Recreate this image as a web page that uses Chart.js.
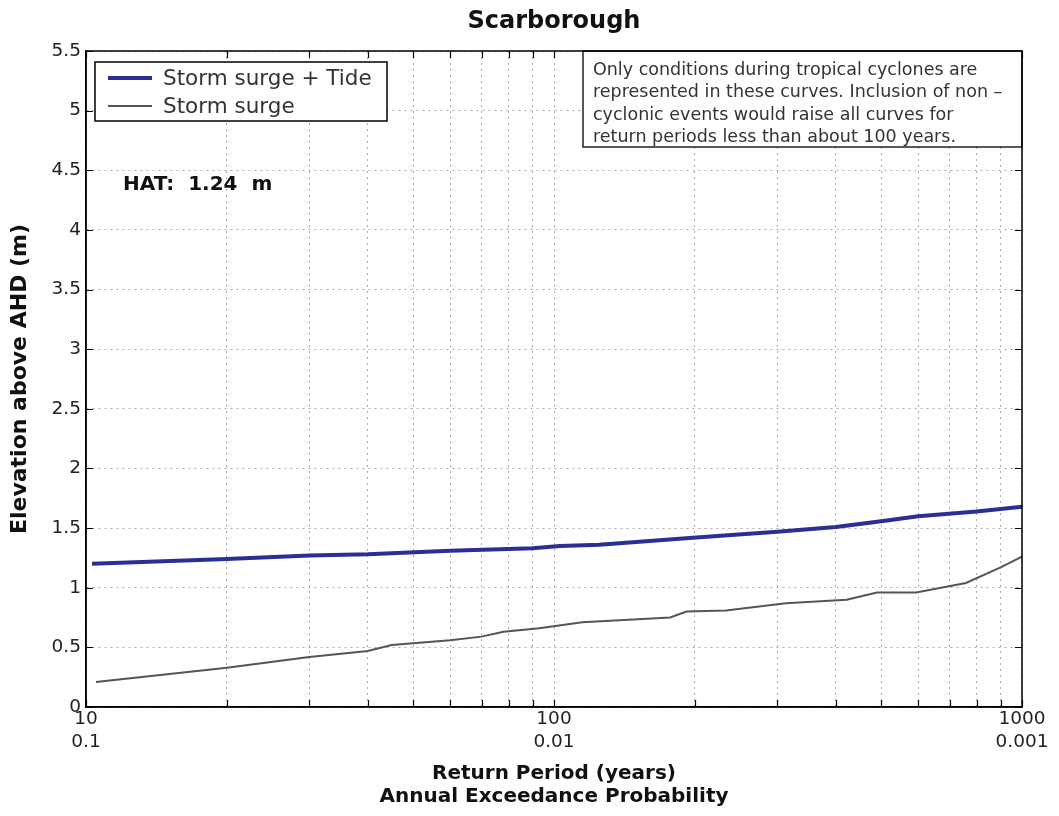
<!DOCTYPE html>
<html>
<head>
<meta charset="utf-8">
<script src="https://cdn.jsdelivr.net/npm/chart.js@4.4.0/dist/chart.umd.min.js"></script>
<style>
    html, body { margin: 0; padding: 0; background: #fff; }
</style>
</head>
<body>
<canvas id="surgeChart" width="1059" height="816"></canvas>
<script>
// return period (years) and elevation (m)
const tideYears = [10.3, 20, 30, 40, 60, 90, 103, 125, 198, 300, 400, 505, 600, 800, 1000];
const tideLevels = [1.20, 1.24, 1.27, 1.28, 1.31, 1.33, 1.35, 1.36, 1.42, 1.47, 1.51, 1.56, 1.60, 1.64, 1.68];
const surgeYears = [10.5, 20, 30, 40, 45, 60, 70, 78, 93, 115, 177, 192, 233, 313, 422, 490, 594, 759, 900, 1000];
const surgeLevels = [0.21, 0.33, 0.42, 0.47, 0.52, 0.56, 0.59, 0.63, 0.66, 0.71, 0.75, 0.80, 0.81, 0.87, 0.90, 0.96, 0.96, 1.04, 1.17, 1.26];

const seriesNames = ['Storm surge + Tide', 'Storm surge'];
const xGrid = [10, 20, 30, 40, 50, 60, 70, 80, 90, 100, 200, 300, 400, 500, 600, 700, 800, 900, 1000];
const periodTicks = [10, 100, 1000];
const periodLabels = ['10', '100', '1000'];
const aepLabels = ['0.1', '0.01', '0.001'];
const yTicks = [0, 0.5, 1, 1.5, 2, 2.5, 3, 3.5, 4, 4.5, 5, 5.5];
const noteLines = [
    'Only conditions during tropical cyclones are',
    'represented in these curves. Inclusion of non \u2013',
    'cyclonic events would raise all curves for',
    'return periods less than about 100 years.'
];
const hatLabel = 'HAT:  1.24  m';

const FONT = "'DejaVu Sans', 'Liberation Sans', sans-serif";
Chart.defaults.font.family = FONT;
Chart.defaults.color = '#222';

function toPoints(xs, ys) {
    return xs.map(function (x, i) { return { x: x, y: ys[i] }; });
}

const frame = {
    id: 'frame',
    afterDraw: function (chart) {
        const c = chart.ctx;
        const a = chart.chartArea;
        const xs = chart.scales.x;
        const ys = chart.scales.y;
        c.save();

        // inward tick marks on all four sides
        c.strokeStyle = '#000';
        c.lineWidth = 1.2;
        c.beginPath();
        xGrid.forEach(function (v) {
            const px = Math.round(xs.getPixelForValue(v)) + 0.5;
            c.moveTo(px, a.bottom); c.lineTo(px, a.bottom - 7);
            c.moveTo(px, a.top); c.lineTo(px, a.top + 7);
        });
        yTicks.forEach(function (v) {
            const py = Math.round(ys.getPixelForValue(v)) + 0.5;
            c.moveTo(a.left, py); c.lineTo(a.left + 7, py);
            c.moveTo(a.right, py); c.lineTo(a.right - 7, py);
        });
        c.stroke();

        // note box, top right
        const nx = 583, ny = a.top, nb = 147;
        c.fillStyle = '#fff';
        c.fillRect(nx, ny, a.right - nx, nb - ny);
        c.strokeStyle = '#222';
        c.lineWidth = 1.5;
        c.strokeRect(nx, ny, a.right - nx, nb - ny);
        c.fillStyle = '#333';
        c.font = '17.5px ' + FONT;
        c.textBaseline = 'middle';
        c.textAlign = 'left';
        noteLines.forEach(function (t, i) {
            c.fillText(t, nx + 10, 70 + i * 22.5);
        });

        // legend box, top left
        const lx = a.left + 9, ly = a.top + 11, lw = 292, lh = 59;
        c.fillStyle = '#fff';
        c.fillRect(lx, ly, lw, lh);
        c.strokeStyle = '#000';
        c.lineWidth = 1.5;
        c.strokeRect(lx, ly, lw, lh);
        c.font = '21.5px ' + FONT;
        chart.data.datasets.forEach(function (ds, i) {
            const yy = ly + 16 + i * 28;
            c.strokeStyle = ds.borderColor;
            c.lineWidth = ds.borderWidth;
            c.beginPath();
            c.moveTo(lx + 13, yy); c.lineTo(lx + 57, yy);
            c.stroke();
            c.fillStyle = '#333';
            c.fillText(ds.label, lx + 68, yy + 1);
        });

        // HAT label
        c.fillStyle = '#111';
        c.font = 'bold 20px ' + FONT;
        c.fillText(hatLabel, 123, 185);

        // plot frame
        c.strokeStyle = '#000';
        c.lineWidth = 1.5;
        c.strokeRect(a.left, a.top, a.right - a.left, a.bottom - a.top);
        c.restore();
    }
};

new Chart(document.getElementById('surgeChart').getContext('2d'), {
    type: 'line',
    data: {
        datasets: [{
            label: seriesNames[0],
            data: toPoints(tideYears, tideLevels),
            borderColor: '#2b2e94',
            borderWidth: 4,
            pointRadius: 0,
            tension: 0
        }, {
            label: seriesNames[1],
            data: toPoints(surgeYears, surgeLevels),
            borderColor: '#555',
            borderWidth: 2,
            pointRadius: 0,
            tension: 0
        }]
    },
    options: {
        responsive: false,
        animation: false,
        layout: { padding: { left: 6, right: 37, top: 0, bottom: 0 } },
        scales: {
            x: {
                type: 'logarithmic',
                min: 10,
                max: 1000,
                afterBuildTicks: function (s) {
                    s.ticks = xGrid.map(function (v) { return { value: v }; });
                },
                afterFit: function (s) { s.height = 109; },
                ticks: {
                    autoSkip: false,
                    maxRotation: 0,
                    padding: 1,
                    color: '#222',
                    font: { size: 18.5, lineHeight: 1.22 },
                    callback: function (v) {
                        const i = periodTicks.indexOf(v);
                        return i < 0 ? '' : [periodLabels[i], aepLabels[i]];
                    }
                },
                grid: { color: '#aaa', lineWidth: 1, drawTicks: false },
                border: { display: true, color: '#000', width: 1.5, dash: [2, 4] },
                title: {
                    display: true,
                    text: ['Return Period (years)', 'Annual Exceedance Probability'],
                    color: '#111',
                    font: { size: 20, weight: 'bold', lineHeight: 1.15 },
                    padding: { top: 0, bottom: 7.5 }
                }
            },
            y: {
                min: 0,
                max: 5.5,
                afterBuildTicks: function (s) {
                    s.ticks = yTicks.map(function (v) { return { value: v }; });
                },
                afterFit: function (s) { s.width = 80; },
                ticks: {
                    padding: 5,
                    color: '#222',
                    font: { size: 18.5 },
                    callback: function (v) { return String(v); }
                },
                grid: { color: '#aaa', lineWidth: 1, drawTicks: false },
                border: { display: true, color: '#000', width: 1.5, dash: [2, 4] },
                title: {
                    display: true,
                    text: 'Elevation above AHD (m)',
                    color: '#111',
                    font: { size: 22, weight: 'bold' },
                    padding: { top: 1, bottom: 0 }
                }
            }
        },
        plugins: {
            legend: { display: false },
            tooltip: { enabled: false },
            title: {
                display: true,
                text: 'Scarborough',
                fullSize: false,
                color: '#111',
                font: { size: 24, weight: 'bold' },
                padding: { top: 7, bottom: 15.2 }
            }
        }
    },
    plugins: [frame]
});
</script>
</body>
</html>
